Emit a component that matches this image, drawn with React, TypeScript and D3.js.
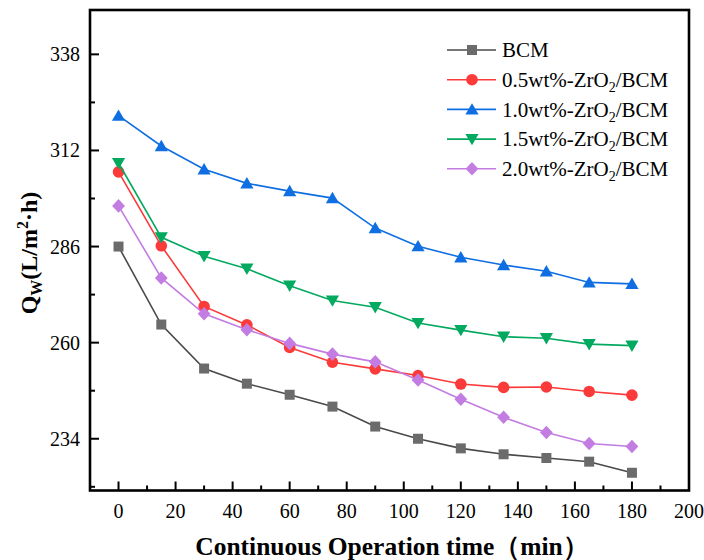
import React from "react";
import * as d3 from "d3";

const times = [0, 15, 30, 45, 60, 75, 90, 105, 120, 135, 150, 165, 180];
const bcm = [286.0, 264.9, 253.0, 248.9, 245.9, 242.7, 237.3, 234.0, 231.4, 229.8, 228.8, 227.8, 224.8];
const zr05 = [306.2, 286.2, 269.8, 264.8, 258.7, 254.7, 252.9, 251.1, 248.8, 247.9, 248.0, 246.8, 245.8];
const zr10 = [321.4, 313.2, 306.9, 303.1, 301.0, 299.1, 291.0, 286.1, 283.1, 281.0, 279.3, 276.3, 275.9];
const zr15 = [308.6, 288.5, 283.4, 280.0, 275.4, 271.4, 269.6, 265.3, 263.4, 261.6, 261.2, 259.6, 259.2];
const zr20 = [297.0, 277.5, 267.8, 263.5, 259.8, 256.9, 254.8, 249.9, 244.7, 239.8, 235.7, 232.7, 231.9];

const yTicks = [234, 260, 286, 312, 338];
const yMinor = [221, 247, 273, 299, 325];
const xTicks = [0, 20, 40, 60, 80, 100, 120, 140, 160, 180, 200];
const xMinor = [10, 30, 50, 70, 90, 110, 130, 150, 170, 190];

const series = [
  { pre: "BCM", sub: "", post: "", values: bcm, marker: "square", color: "#6b6b6b", line: "#4a4a4a" },
  { pre: "0.5wt%-ZrO", sub: "2", post: "/BCM", values: zr05, marker: "circle", color: "#fb3a3a", line: "#fb3a3a" },
  { pre: "1.0wt%-ZrO", sub: "2", post: "/BCM", values: zr10, marker: "up", color: "#0f6fe2", line: "#0f6fe2" },
  { pre: "1.5wt%-ZrO", sub: "2", post: "/BCM", values: zr15, marker: "down", color: "#02a95e", line: "#02a95e" },
  { pre: "2.0wt%-ZrO", sub: "2", post: "/BCM", values: zr20, marker: "diamond", color: "#c27ce2", line: "#c27ce2" },
];

function markerPath(type: string, x: number, y: number): string {
  switch (type) {
    case "square": {
      const h = 5;
      return `M${x - h},${y - h}H${x + h}V${y + h}H${x - h}Z`;
    }
    case "circle": {
      const r = 5.8;
      return `M${x - r},${y}A${r},${r} 0 1,0 ${x + r},${y}A${r},${r} 0 1,0 ${x - r},${y}Z`;
    }
    case "up": {
      const w = 6.6, h = 11.4;
      return `M${x},${y - h * 0.55}L${x + w},${y + h * 0.45}L${x - w},${y + h * 0.45}Z`;
    }
    case "down": {
      const w = 6.6, h = 11.4;
      return `M${x},${y + h * 0.55}L${x + w},${y - h * 0.45}L${x - w},${y - h * 0.45}Z`;
    }
    case "diamond": {
      const w = 6.4, h = 6.8;
      return `M${x},${y - h}L${x + w},${y}L${x},${y + h}L${x - w},${y}Z`;
    }
  }
  return "";
}

const SERIF = '"Liberation Serif", "Times New Roman", Times, serif';

export default function App() {
  const left = 90, right = 689, top = 10, bottom = 490.5;
  const x = d3.scaleLinear().domain([-10, 200]).range([left, right]);
  const y = d3.scaleLinear().domain([220, 350]).range([bottom, top]);
  const line = d3
    .line<number>()
    .x((_, i) => x(times[i]))
    .y((d) => y(d));

  const legX = 447, legY0 = 50, legDy = 29.7;
  const ts = { fontFamily: SERIF };

  return (
    <svg
      width={704}
      height={560}
      style={{ position: "absolute", left: 0, top: 0, background: "#fff", fontFamily: SERIF }}
    >
      <rect x={0} y={0} width={704} height={560} fill="#fff" />
      {series.map((s, si) => (
        <g key={si}>
          <path d={line(s.values) || ""} fill="none" stroke={s.line} strokeWidth={1.6} />
          {s.values.map((v, i) => (
            <path key={i} d={markerPath(s.marker, x(times[i]), y(v))} fill={s.color} />
          ))}
        </g>
      ))}
      <rect x={left} y={top} width={right - left} height={bottom - top} fill="none" stroke="#000" strokeWidth={2.6} />
      {yTicks.map((t) => (
        <g key={"y" + t}>
          <line x1={left} x2={left + 9} y1={y(t)} y2={y(t)} stroke="#000" strokeWidth={2} />
          <text x={left - 10} y={y(t)} dy="0.35em" textAnchor="end" fontSize={20} style={ts}>
            {t}
          </text>
        </g>
      ))}
      {yMinor.map((t) => (
        <line key={"ym" + t} x1={left} x2={left + 5} y1={y(t)} y2={y(t)} stroke="#000" strokeWidth={2} />
      ))}
      {xTicks.map((t) => (
        <g key={"x" + t}>
          <line x1={x(t)} x2={x(t)} y1={bottom} y2={bottom - 9} stroke="#000" strokeWidth={2} />
          <text x={x(t)} y={517.5} textAnchor="middle" fontSize={20} style={ts}>
            {t}
          </text>
        </g>
      ))}
      {xMinor.map((t) => (
        <line key={"xm" + t} x1={x(t)} x2={x(t)} y1={bottom} y2={bottom - 5} stroke="#000" strokeWidth={2} />
      ))}
      <text x={392} y={555} textAnchor="middle" fontSize={25.5} fontWeight="bold" style={ts}>
        Continuous Operation time（min）
      </text>
      <text transform="translate(37,253) rotate(-90)" textAnchor="middle" fontSize={24} fontWeight="bold" style={ts}>
        Q
        <tspan fontSize={16} dy={5}>W</tspan>
        <tspan dy={-5}>(L/m</tspan>
        <tspan fontSize={16} dy={-9}>2</tspan>
        <tspan dy={9}>·h)</tspan>
      </text>
      {series.map((s, si) => {
        const ly = legY0 + si * legDy;
        return (
          <g key={"l" + si}>
            <line x1={legX} x2={legX + 49} y1={ly} y2={ly} stroke={s.line} strokeWidth={1.6} />
            <path d={markerPath(s.marker, legX + 25, ly)} fill={s.color} />
            <text x={502} y={ly} dy="0.35em" fontSize={21} style={ts}>
              {s.pre}
              {s.sub && (
                <>
                  <tspan fontSize={14} dy={5}>{s.sub}</tspan>
                  <tspan dy={-5}>{s.post}</tspan>
                </>
              )}
            </text>
          </g>
        );
      })}
    </svg>
  );
}
